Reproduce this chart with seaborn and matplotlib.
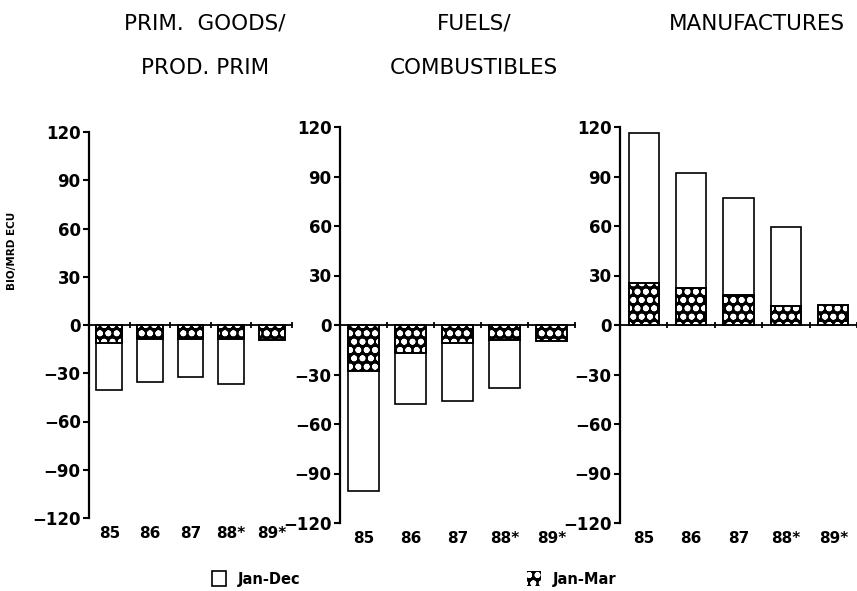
import matplotlib
matplotlib.use("Agg")
import matplotlib.pyplot as plt
import seaborn as sns
import pandas as pd
import numpy as np
from matplotlib.patches import Patch

# ---- data ----
years = ["85", "86", "87", "88*", "89*"]
titles_line1 = ["PRIM.  GOODS/", "FUELS/", "MANUFACTURES"]
titles_line2 = ["PROD. PRIM", "COMBUSTIBLES", ""]
jan_dec_prim = [-40.4, -35.3, -32.6, -36.7, np.nan]
jan_mar_prim = [-11.3, -8.5, -8.5, -8.5, -9.3]
jan_dec_fuel = [-100.6, -48.0, -46.0, -38.0, np.nan]
jan_mar_fuel = [-28.0, -17.0, -11.0, -8.8, -9.4]
jan_dec_manu = [116.6, 92.2, 77.2, 59.6, np.nan]
jan_mar_manu = [25.6, 22.6, 18.2, 11.6, 12.2]
yticks = [-120, -90, -60, -30, 0, 30, 60, 90, 120]
ylabel = "BIO/MRD ECU"
legend_labels = ["Jan-Dec", "Jan-Mar"]

sns.set_theme(style="white")
plt.rcParams.update({
    "font.family": ["DejaVu Sans"],
    "text.color": "black",
    "axes.labelcolor": "black",
    "xtick.color": "black",
    "ytick.color": "black",
    "axes.edgecolor": "black",
    "hatch.linewidth": 1.8,
})

fig = plt.figure(figsize=(8.57, 5.91), dpi=100)
W, H = 857, 591
# axes boxes in pixels: left, right, top, bottom
boxes = [(89, 292, 132, 518), (340, 575, 127, 523), (620, 857, 127, 523)]
dec_sets = [jan_dec_prim, jan_dec_fuel, jan_dec_manu]
mar_sets = [jan_mar_prim, jan_mar_fuel, jan_mar_manu]
title_x = [205, 474, 757]

axes = []
for i, (l, r, t, b) in enumerate(boxes):
    ax = fig.add_axes([l / W, 1 - b / H, (r - l) / W, (b - t) / H])
    axes.append(ax)
    df = pd.DataFrame({"year": years, "jan_dec": dec_sets[i], "jan_mar": mar_sets[i]})
    sns.barplot(data=df, x="year", y="jan_dec", order=years, color="white",
                edgecolor="black", linewidth=1.2, width=0.64, errorbar=None,
                saturation=1, ax=ax)
    sns.barplot(data=df, x="year", y="jan_mar", order=years, color="black",
                edgecolor="white", linewidth=0, width=0.64, errorbar=None,
                saturation=1, hatch="oo", ax=ax)
    sns.barplot(data=df, x="year", y="jan_mar", order=years, color="black",
                fill=False, linewidth=1.4, width=0.64, errorbar=None,
                saturation=1, ax=ax)
    ax.set_xlim(-0.5, len(years) - 0.5)
    ax.set_ylim(-120, 120)
    ax.set_yticks(yticks)
    ax.set_xlabel("")
    ax.set_ylabel("")
    for s in ["top", "right", "bottom"]:
        ax.spines[s].set_visible(False)
    ax.spines["left"].set_linewidth(1.6)
    ax.tick_params(axis="y", left=True, direction="out", length=4, width=1.5,
                   labelsize=12, pad=2)
    ax.tick_params(axis="x", bottom=False, length=0, pad=6, labelsize=11)
    for lbl in ax.get_xticklabels() + ax.get_yticklabels():
        lbl.set_fontweight("bold")
    # zero line with boundary ticks
    sec = ax.secondary_xaxis(0.5)
    sec.set_xticks([k + 0.5 for k in range(len(years))])
    sec.tick_params(axis="x", direction="inout", length=5, width=1.3,
                    labeltop=False, labelbottom=False)
    for s in sec.spines.values():
        s.set_linewidth(1.3)
    fig.text(title_x[i] / W, 1 - 23.5 / H, titles_line1[i], ha="center",
             va="center", fontsize=15.5)
    if titles_line2[i]:
        fig.text(title_x[i] / W, 1 - 68 / H, titles_line2[i], ha="center",
                 va="center", fontsize=15.5)

axes[0].set_ylabel(ylabel, fontsize=7.5, fontweight="bold")
axes[0].yaxis.set_label_coords((17 - 89) / 203, (518 - 251) / 386)

handles = [Patch(facecolor="white", edgecolor="black", linewidth=1.2),
           Patch(facecolor="black", edgecolor="white", linewidth=0, hatch="oo")]
fig.legend(handles, legend_labels, ncol=2, loc="center",
           bbox_to_anchor=(414 / W, 1 - 579 / H), frameon=False,
           prop={"size": 10.5, "weight": "bold"}, handlelength=1.0,
           handleheight=1.2, handletextpad=0.8, columnspacing=15.5)

fig.savefig("out.png", dpi=100)
